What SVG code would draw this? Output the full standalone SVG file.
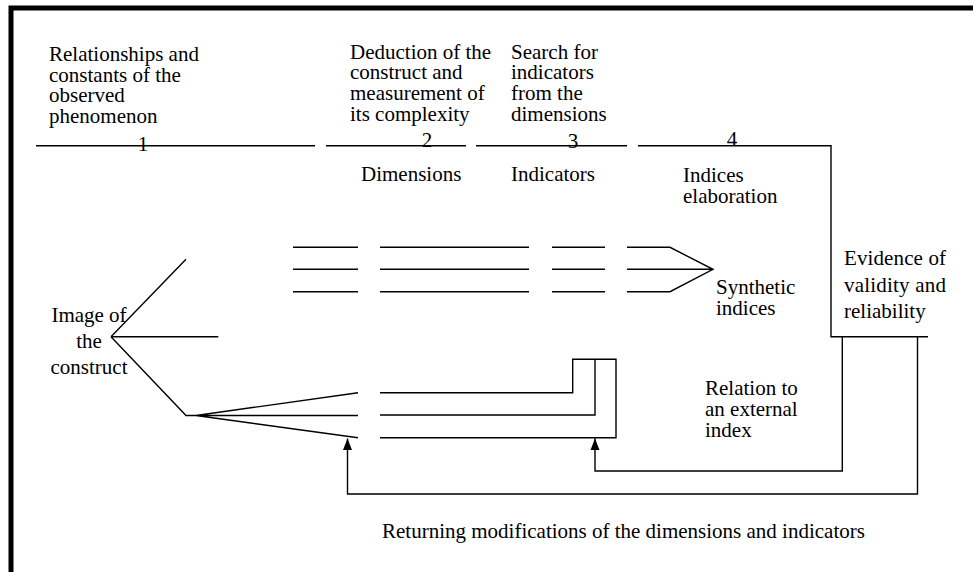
<svg xmlns="http://www.w3.org/2000/svg" width="973" height="572" viewBox="0 0 973 572">
<defs>
<style>
.ln{fill:none;stroke:#000;stroke-width:1.4}
.mid{text-anchor:middle}
</style>
<marker id="arr" markerUnits="userSpaceOnUse" markerWidth="12" markerHeight="10" viewBox="0 0 12 10" refX="11.5" refY="5" orient="auto">
<path d="M0 0.5 L11.5 5 L0 9.5 Z" fill="#000"/>
</marker>
</defs>
<rect width="973" height="572" fill="#fff"/>
<g id="frame">
<path d="M11 572 V8 H973" fill="none" stroke="#000" stroke-width="5"/>
</g>
<g font-family="Liberation Serif, Times New Roman, serif" font-size="21" fill="#000">
<g id="step1">
<text x="49" y="61">Relationships  and</text>
<text x="49" y="82">constants of the</text>
<text x="49" y="102">observed</text>
<text x="49" y="123">phenomenon</text>
<text x="143" y="151" class="mid">1</text>
</g>
<g id="step2">
<text x="350" y="58.5">Deduction of the</text>
<text x="350" y="79">construct and</text>
<text x="350" y="100">measurement of</text>
<text x="350" y="120.5">its complexity</text>
<text x="427" y="147" class="mid">2</text>
<text x="361" y="181">Dimensions</text>
</g>
<g id="step3">
<text x="511" y="58.5">Search for</text>
<text x="511" y="79">indicators</text>
<text x="511" y="100">from the</text>
<text x="511" y="120.5">dimensions</text>
<text x="573" y="148" class="mid">3</text>
<text x="511" y="181">Indicators</text>
</g>
<g id="step4">
<text x="732" y="146" class="mid">4</text>
<text x="683" y="181.5">Indices</text>
<text x="683" y="202.5">elaboration</text>
</g>
<g id="image">
<text x="89" y="321.7" class="mid">Image of</text>
<text x="89" y="347.7" class="mid">the</text>
<text x="89" y="374.3" class="mid">construct</text>
</g>
<g id="synthetic">
<text x="716" y="294">Synthetic</text>
<text x="716" y="315">indices</text>
</g>
<g id="evidence">
<text x="844" y="265" textLength="102" lengthAdjust="spacing">Evidence of</text>
<text x="844" y="291.5" textLength="102" lengthAdjust="spacing">validity and</text>
<text x="844" y="318">reliability</text>
</g>
<g id="relation">
<text x="705" y="395">Relation to</text>
<text x="705" y="415.5">an external</text>
<text x="705" y="436.5">index</text>
</g>
<g id="returning">
<text x="382" y="538">Returning modifications  of the dimensions and indicators</text>
</g>
</g>
<g id="connectors" class="ln">
<path class="ln" d="M36 145.7 H315 M326 145.7 H466 M476 145.7 H627"/>
<path class="ln" d="M638 145.7 H831 V336.7 H928"/>
<path class="ln" d="M111 336.7 L186 259.3 M111 336.7 H218.3 M111 336.7 L186 415.5 H358 M196 415.5 L358 392.7 M196 415.5 L358 437.7"/>
<path class="ln" d="M293 247.3 H358 M293 269.3 H358 M293 291.7 H358"/>
<path class="ln" d="M380 247.3 H529 M380 269.3 H529 M380 291.7 H529"/>
<path class="ln" d="M552 247.3 H605 M552 269.3 H605 M552 291.7 H605"/>
<path class="ln" d="M627 247.3 H670 L713 269.3 L670 291.7 H627 M627 269.3 H713"/>
<path class="ln" d="M380 392.7 H572.7 V359.3 H616 V437.7 H380"/>
<path class="ln" d="M380 415 H595 V359.3"/>
<path class="ln" d="M842.3 336.7 V471 H595 V438.5" marker-end="url(#arr)"/>
<path class="ln" d="M917.5 336.7 V494 H347.5 V438.5" marker-end="url(#arr)"/>
</g>
</svg>
